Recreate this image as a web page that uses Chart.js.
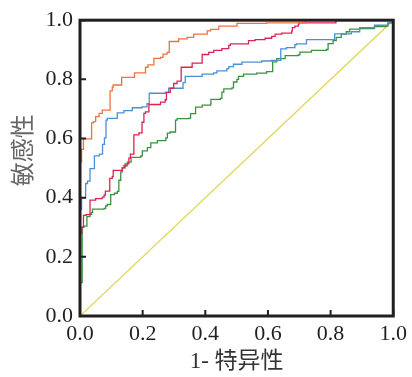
<!DOCTYPE html>
<html>
<head>
<meta charset="utf-8">
<script src="https://cdn.jsdelivr.net/npm/chart.js@4/dist/chart.umd.min.js"></script>
<style>
html,body{margin:0;padding:0;background:#fff;}
#wrap{width:412px;height:377px;}
</style>
</head>
<body>
<div id="wrap"><canvas id="c" width="412" height="377"></canvas></div>
<script>
// ---- data ----
const tickValues = [0, 0.2, 0.4, 0.6, 0.8, 1.0];
const tickLabels = ['0.0', '0.2', '0.4', '0.6', '0.8', '1.0'];
const xTitle = '1- 特异性';
const yTitle = '敏感性';

const orangeFpr = [0, 0, 0.005, 0.011, 0.037, 0.043, 0.050, 0.061, 0.071, 0.096, 0.103, 0.106, 0.133, 0.174, 0.209, 0.217, 0.236, 0.257, 0.265, 0.278, 0.285, 0.315, 0.342, 0.363, 0.406, 0.417, 0.443, 0.501, 0.596, 0.72, 1.0];
const orangeTpr = [0, 0.520, 0.563, 0.599, 0.653, 0.657, 0.674, 0.685, 0.696, 0.761, 0.774, 0.781, 0.807, 0.822, 0.841, 0.849, 0.871, 0.874, 0.885, 0.891, 0.928, 0.937, 0.942, 0.953, 0.964, 0.969, 0.980, 0.989, 0.991, 1.0, 1.0];

const redFpr = [0, 0, 0.006, 0.011, 0.019, 0.032, 0.050, 0.071, 0.077, 0.081, 0.095, 0.103, 0.106, 0.135, 0.144, 0.156, 0.161, 0.172, 0.188, 0.198, 0.204, 0.209, 0.220, 0.257, 0.272, 0.276, 0.288, 0.299, 0.310, 0.323, 0.358, 0.390, 0.411, 0.427, 0.453, 0.475, 0.480, 0.538, 0.559, 0.591, 0.612, 0.623, 0.644, 0.676, 0.678, 0.686, 0.697, 0.699, 0.817, 1.0];
const redTpr = [0, 0.280, 0.300, 0.340, 0.343, 0.392, 0.397, 0.402, 0.409, 0.422, 0.465, 0.471, 0.492, 0.501, 0.514, 0.534, 0.547, 0.612, 0.619, 0.655, 0.685, 0.690, 0.715, 0.723, 0.731, 0.756, 0.770, 0.786, 0.794, 0.841, 0.855, 0.884, 0.891, 0.898, 0.904, 0.915, 0.920, 0.931, 0.934, 0.939, 0.945, 0.953, 0.956, 0.964, 0.975, 0.980, 0.986, 0.991, 1.0, 1.0];

const blueFpr = [0, 0, 0.005, 0.018, 0.024, 0.032, 0.046, 0.062, 0.072, 0.078, 0.083, 0.087, 0.119, 0.140, 0.167, 0.198, 0.214, 0.221, 0.272, 0.283, 0.329, 0.336, 0.390, 0.427, 0.437, 0.469, 0.475, 0.490, 0.517, 0.580, 0.612, 0.641, 0.659, 0.686, 0.691, 0.723, 0.813, 0.866, 0.893, 0.940, 0.983, 1.0];
const blueTpr = [0, 0.360, 0.400, 0.448, 0.456, 0.498, 0.541, 0.547, 0.580, 0.602, 0.662, 0.668, 0.687, 0.694, 0.704, 0.707, 0.718, 0.753, 0.756, 0.770, 0.789, 0.810, 0.818, 0.822, 0.829, 0.836, 0.843, 0.851, 0.858, 0.862, 0.864, 0.903, 0.907, 0.917, 0.920, 0.934, 0.954, 0.961, 0.975, 0.983, 0.991, 1.0];

const greenFpr = [0, 0, 0.007, 0.012, 0.022, 0.032, 0.037, 0.040, 0.077, 0.082, 0.087, 0.098, 0.110, 0.119, 0.124, 0.130, 0.135, 0.140, 0.151, 0.163, 0.194, 0.199, 0.215, 0.226, 0.247, 0.274, 0.279, 0.288, 0.305, 0.310, 0.348, 0.353, 0.369, 0.390, 0.417, 0.418, 0.448, 0.453, 0.459, 0.485, 0.490, 0.501, 0.506, 0.522, 0.564, 0.596, 0.615, 0.628, 0.655, 0.697, 0.702, 0.739, 0.787, 0.792, 0.808, 0.818, 0.834, 0.850, 0.861, 0.893, 0.940, 0.977, 0.983, 1.0];
const greenTpr = [0, 0.113, 0.300, 0.304, 0.336, 0.344, 0.350, 0.361, 0.364, 0.372, 0.377, 0.410, 0.415, 0.421, 0.459, 0.487, 0.501, 0.508, 0.520, 0.536, 0.541, 0.558, 0.569, 0.585, 0.593, 0.602, 0.618, 0.622, 0.662, 0.667, 0.669, 0.684, 0.706, 0.713, 0.717, 0.732, 0.736, 0.757, 0.768, 0.771, 0.791, 0.800, 0.810, 0.818, 0.821, 0.826, 0.859, 0.870, 0.880, 0.883, 0.892, 0.898, 0.901, 0.921, 0.931, 0.942, 0.953, 0.961, 0.970, 0.972, 0.978, 0.980, 0.991, 1.0];

const refFpr = [0, 1];
const refTpr = [0, 1];

// ---- build ----
function pts(xs, ys) {
  const n = Math.min(xs.length, ys.length);
  const out = [];
  for (let i = 0; i < n; i++) out.push({x: xs[i], y: ys[i]});
  return out;
}
function stepSet(data, color) {
  return {data, borderColor: color, backgroundColor: color, borderWidth: 1.3,
          showLine: true, stepped: 'before', pointRadius: 0, fill: false};
}

const INK = '#231f20';

const framePlugin = {
  id: 'frame',
  afterDatasetsDraw(chart) {
    const {ctx, chartArea: a, scales: {x, y}} = chart;
    ctx.save();
    ctx.strokeStyle = INK;
    ctx.lineWidth = 2;
    ctx.beginPath();
    tickValues.forEach(v => {
      const px = x.getPixelForValue(v);
      ctx.moveTo(px, a.bottom); ctx.lineTo(px, a.bottom - 6);
      const py = y.getPixelForValue(v);
      ctx.moveTo(a.left, py); ctx.lineTo(a.left + 6, py);
    });
    ctx.stroke();
    ctx.lineWidth = 3;
    ctx.strokeRect(a.left, a.top, a.right - a.left, a.bottom - a.top);
    ctx.restore();
  }
};

const yTitlePlugin = {
  id: 'ytitle',
  afterDraw(chart) {
    const {ctx, chartArea: a} = chart;
    ctx.save();
    ctx.translate(22, a.top + (a.bottom - a.top) * 0.44);
    ctx.rotate(-Math.PI / 2);
    ctx.font = '24px "Noto Sans CJK SC"';
    ctx.fillStyle = '#666';
    ctx.textAlign = 'center';
    ctx.textBaseline = 'middle';
    ctx.fillText(yTitle, 0, 0);
    ctx.restore();
  }
};

const tickFont = {family: '"Liberation Serif", "Times New Roman", serif', size: 22};

new Chart(document.getElementById('c'), {
  type: 'scatter',
  data: {
    datasets: [
      stepSet(pts(orangeFpr, orangeTpr), '#f2703f'),
      stepSet(pts(redFpr, redTpr), '#dc2352'),
      stepSet(pts(blueFpr, blueTpr), '#4a8fd8'),
      stepSet(pts(greenFpr, greenTpr), '#3b9140'),
      {data: pts(refFpr, refTpr), borderColor: '#e0d44e', borderWidth: 1.2, showLine: true,
       pointRadius: 0, fill: false}
    ]
  },
  options: {
    responsive: false,
    animation: false,
    layout: {padding: {top: 12, right: 16, left: 0, bottom: 0}},
    plugins: {legend: {display: false}, tooltip: {enabled: false}},
    scales: {
      x: {
        type: 'linear', min: 0, max: 1,
        afterBuildTicks: s => { s.ticks = tickValues.map(v => ({value: v})); },
        afterFit: s => { s.height = 61; },
        grid: {display: false, drawTicks: false},
        border: {display: false},
        ticks: {padding: 5, color: INK, font: tickFont, maxRotation: 0,
                callback: (v, i) => tickLabels[i]},
        title: {display: true, text: xTitle, color: '#333', padding: {top: 0, bottom: 1},
                font: {family: '"Liberation Serif", "Noto Sans CJK SC"', size: 23}}
      },
      y: {
        type: 'linear', min: 0, max: 1,
        afterBuildTicks: s => { s.ticks = tickValues.map(v => ({value: v})); },
        afterFit: s => { s.width = 80; },
        grid: {display: false, drawTicks: false},
        border: {display: false},
        ticks: {padding: 7, color: INK, font: tickFont,
                callback: (v, i) => tickLabels[i]}
      }
    }
  },
  plugins: [framePlugin, yTitlePlugin]
});
</script>
</body>
</html>
